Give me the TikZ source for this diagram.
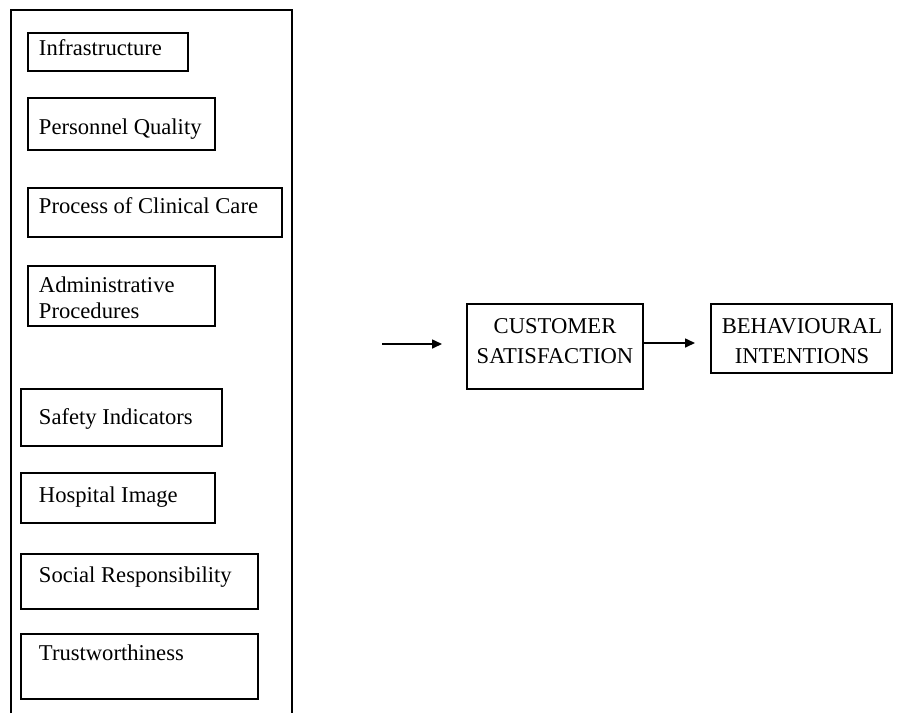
\documentclass[tikz,border=0pt]{standalone}
\usepackage{fontspec}
\setmainfont{Liberation Serif}
\usetikzlibrary{arrows.meta,calc}

\tikzset{
  factor/.style={draw, line width=0.6pt, rectangle, inner sep=0pt, outer sep=0pt, anchor=north west},
  lbl/.style={inner sep=0pt, outer sep=0pt, font=\fontsize{11.3}{12.85}\selectfont},
  caps/.style={inner sep=0pt, outer sep=0pt, align=center, font=\fontsize{11.3}{14.7}\selectfont},
  frame/.style={line width=1pt},
  flow/.style={line width=0.8pt, -{Triangle[length=5pt, width=4.5pt]}}
}

\begin{document}
\begin{tikzpicture}[x=0.5pt, y=-0.5pt]
  \useasboundingbox (0,0) rectangle (916,713);

  % enclosing frame of the quality dimensions (open at the bottom)
  \draw[frame] (11,713) -- (11,10) -- (292,10) -- (292,713);

  % quality dimension boxes
  \node[factor, minimum width=80pt,   minimum height=19pt]   (infra)  at (28,33)  {};
  \node[factor, minimum width=93.5pt, minimum height=26pt]   (pers)   at (28,98)  {};
  \node[factor, minimum width=127pt,  minimum height=24.5pt] (proc)   at (28,188) {};
  \node[factor, minimum width=93.5pt, minimum height=30pt]   (admin)  at (28,266) {};
  \node[factor, minimum width=100.5pt,minimum height=28.5pt] (safety) at (21,389) {};
  \node[factor, minimum width=97pt,   minimum height=25pt]   (hosp)   at (21,473) {};
  \node[factor, minimum width=118.5pt,minimum height=27.5pt] (social) at (21,554) {};
  \node[factor, minimum width=118.5pt,minimum height=32.5pt] (trust)  at (21,634) {};

  % their labels (base anchor = baseline of the last line)
  \node[lbl, anchor=base west] (tinfra)  at (39,55)  {Infrastructure};
  \node[lbl, anchor=base west] (tpers)   at (39,134) {Personnel Quality};
  \node[lbl, anchor=base west] (tproc)   at (39,213) {Process of Clinical Care};
  \node[lbl, anchor=base west, align=left] (tadmin) at (39,318) {Administrative\\Procedures};
  \node[lbl, anchor=base west] (tsafety) at (39,424) {Safety Indicators};
  \node[lbl, anchor=base west] (thosp)   at (39,502) {Hospital Image};
  \node[lbl, anchor=base west] (tsocial) at (39,582) {Social Responsibility};
  \node[lbl, anchor=base west] (ttrust)  at (39,660) {Trustworthiness};

  % outcome boxes
  \node[factor, minimum width=88pt,   minimum height=42.5pt] (cs) at (467,304) {};
  \node[factor, minimum width=90.5pt, minimum height=34.5pt] (bi) at (711,304) {};
  \node[caps, anchor=base] (tcs) at (555,363) {CUSTOMER\\SATISFACTION};
  \node[caps, anchor=base] (tbi) at (802,363) {BEHAVIOURAL\\INTENTIONS};

  % connectors
  \coordinate (inStart) at (382,344);
  \coordinate (inEnd)   at (442,344);
  \coordinate (outEnd)  at (695,343);
  \draw[flow] (inStart) -- (inEnd);
  \draw[flow] (cs.east |- outEnd) -- (outEnd);
\end{tikzpicture}
\end{document}
